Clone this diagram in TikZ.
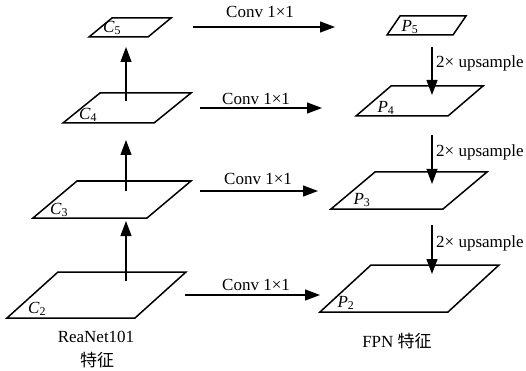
\documentclass[tikz,border=0pt]{standalone}
\usepackage{fontspec}
\setmainfont{Liberation Serif}
\newfontfamily\cjk{Noto Sans CJK SC}
\usetikzlibrary{arrows.meta}
\tikzset{
    layer/.style={line width=1.5pt, line join=miter},
    txt/.style={font=\fontsize{17}{20}\selectfont, inner sep=0pt},
    arr/.style={line width=1.2pt, -{Triangle[length=15pt,width=11pt]}},
}
\begin{document}
\begin{tikzpicture}[x=1pt,y=-1pt]
    \useasboundingbox (0,0) rectangle (526,371);
    % feature maps: name / top-left x / top y / bottom-left x / bottom y / width
    \foreach \n/\xa/\ya/\xb/\yb/\w in {c5/112/18/89/37/59, c4/100/93/63/123/91,
        c3/77/181/33/218/114, c2/58/272/7/318/128, p5/400/16/387/35/66,
        p4/391/86/356/116/92, p3/375/172/331/209/112, p2/371/265/320/312/128} {
        \draw[layer] (\xa,\ya) coordinate (\n tl) -- ++(\w,0) coordinate (\n tr)
            -- (\xb+\w,\yb) coordinate (\n br) -- (\xb,\yb) coordinate (\n bl) -- cycle;
    }
    \foreach \n/\t/\s/\x/\y in {c5/C/5/112/28, c4/C/4/88/115, c3/C/3/59/210, c2/C/2/37/309,
        p5/P/5/410/27, p4/P/4/386/108, p3/P/3/362/200, p2/P/2/346/303} {
        \node[txt] (\n lab) at (\x,\y) {\textit{\t}\textsubscript{\s}};
    }
    % bottom-up path
    \foreach \a/\b/\ya/\yb in {c4/c5/101/47, c3/c4/191/140, c2/c3/281/221} {
        \coordinate (\a up) at (126,\ya);
        \coordinate (\b in) at (126,\yb);
        \draw[arr] (\a up) -- (\b in);
    }
    % top-down path
    \foreach \a/\b/\ya/\yb/\yl in {p5/p4/47/95/68, p4/p3/135/184/157, p3/p2/225/274/247} {
        \coordinate (\a dn) at (432,\ya);
        \coordinate (\b top) at (432,\yb);
        \draw[arr] (\a dn) -- (\b top);
        \node[txt, anchor=base west] (\a up lab) at (436,\yl) {2\texttimes{} upsample};
    }
    % lateral connections
    \foreach \k/\xa/\xb/\y/\xl/\yl in {5/193/335/27/260/18, 4/200/322/108/256/105,
        3/200/318/191/258/185, 2/185/320/295/256/290} {
        \coordinate (c\k out) at (\xa,\y);
        \coordinate (p\k in) at (\xb,\y);
        \draw[arr] (c\k out) -- (p\k in);
        \node[txt, anchor=base] (conv\k) at (\xl,\yl) {Conv 1\texttimes1};
    }
    \node[txt] (backbone) at (96,337) {ReaNet101};
    \node[txt] (backbone feat) at (97,360) {\cjk 特征};
    \node[txt] (fpn) at (397,341) {FPN {\cjk 特征}};
\end{tikzpicture}
\end{document}
